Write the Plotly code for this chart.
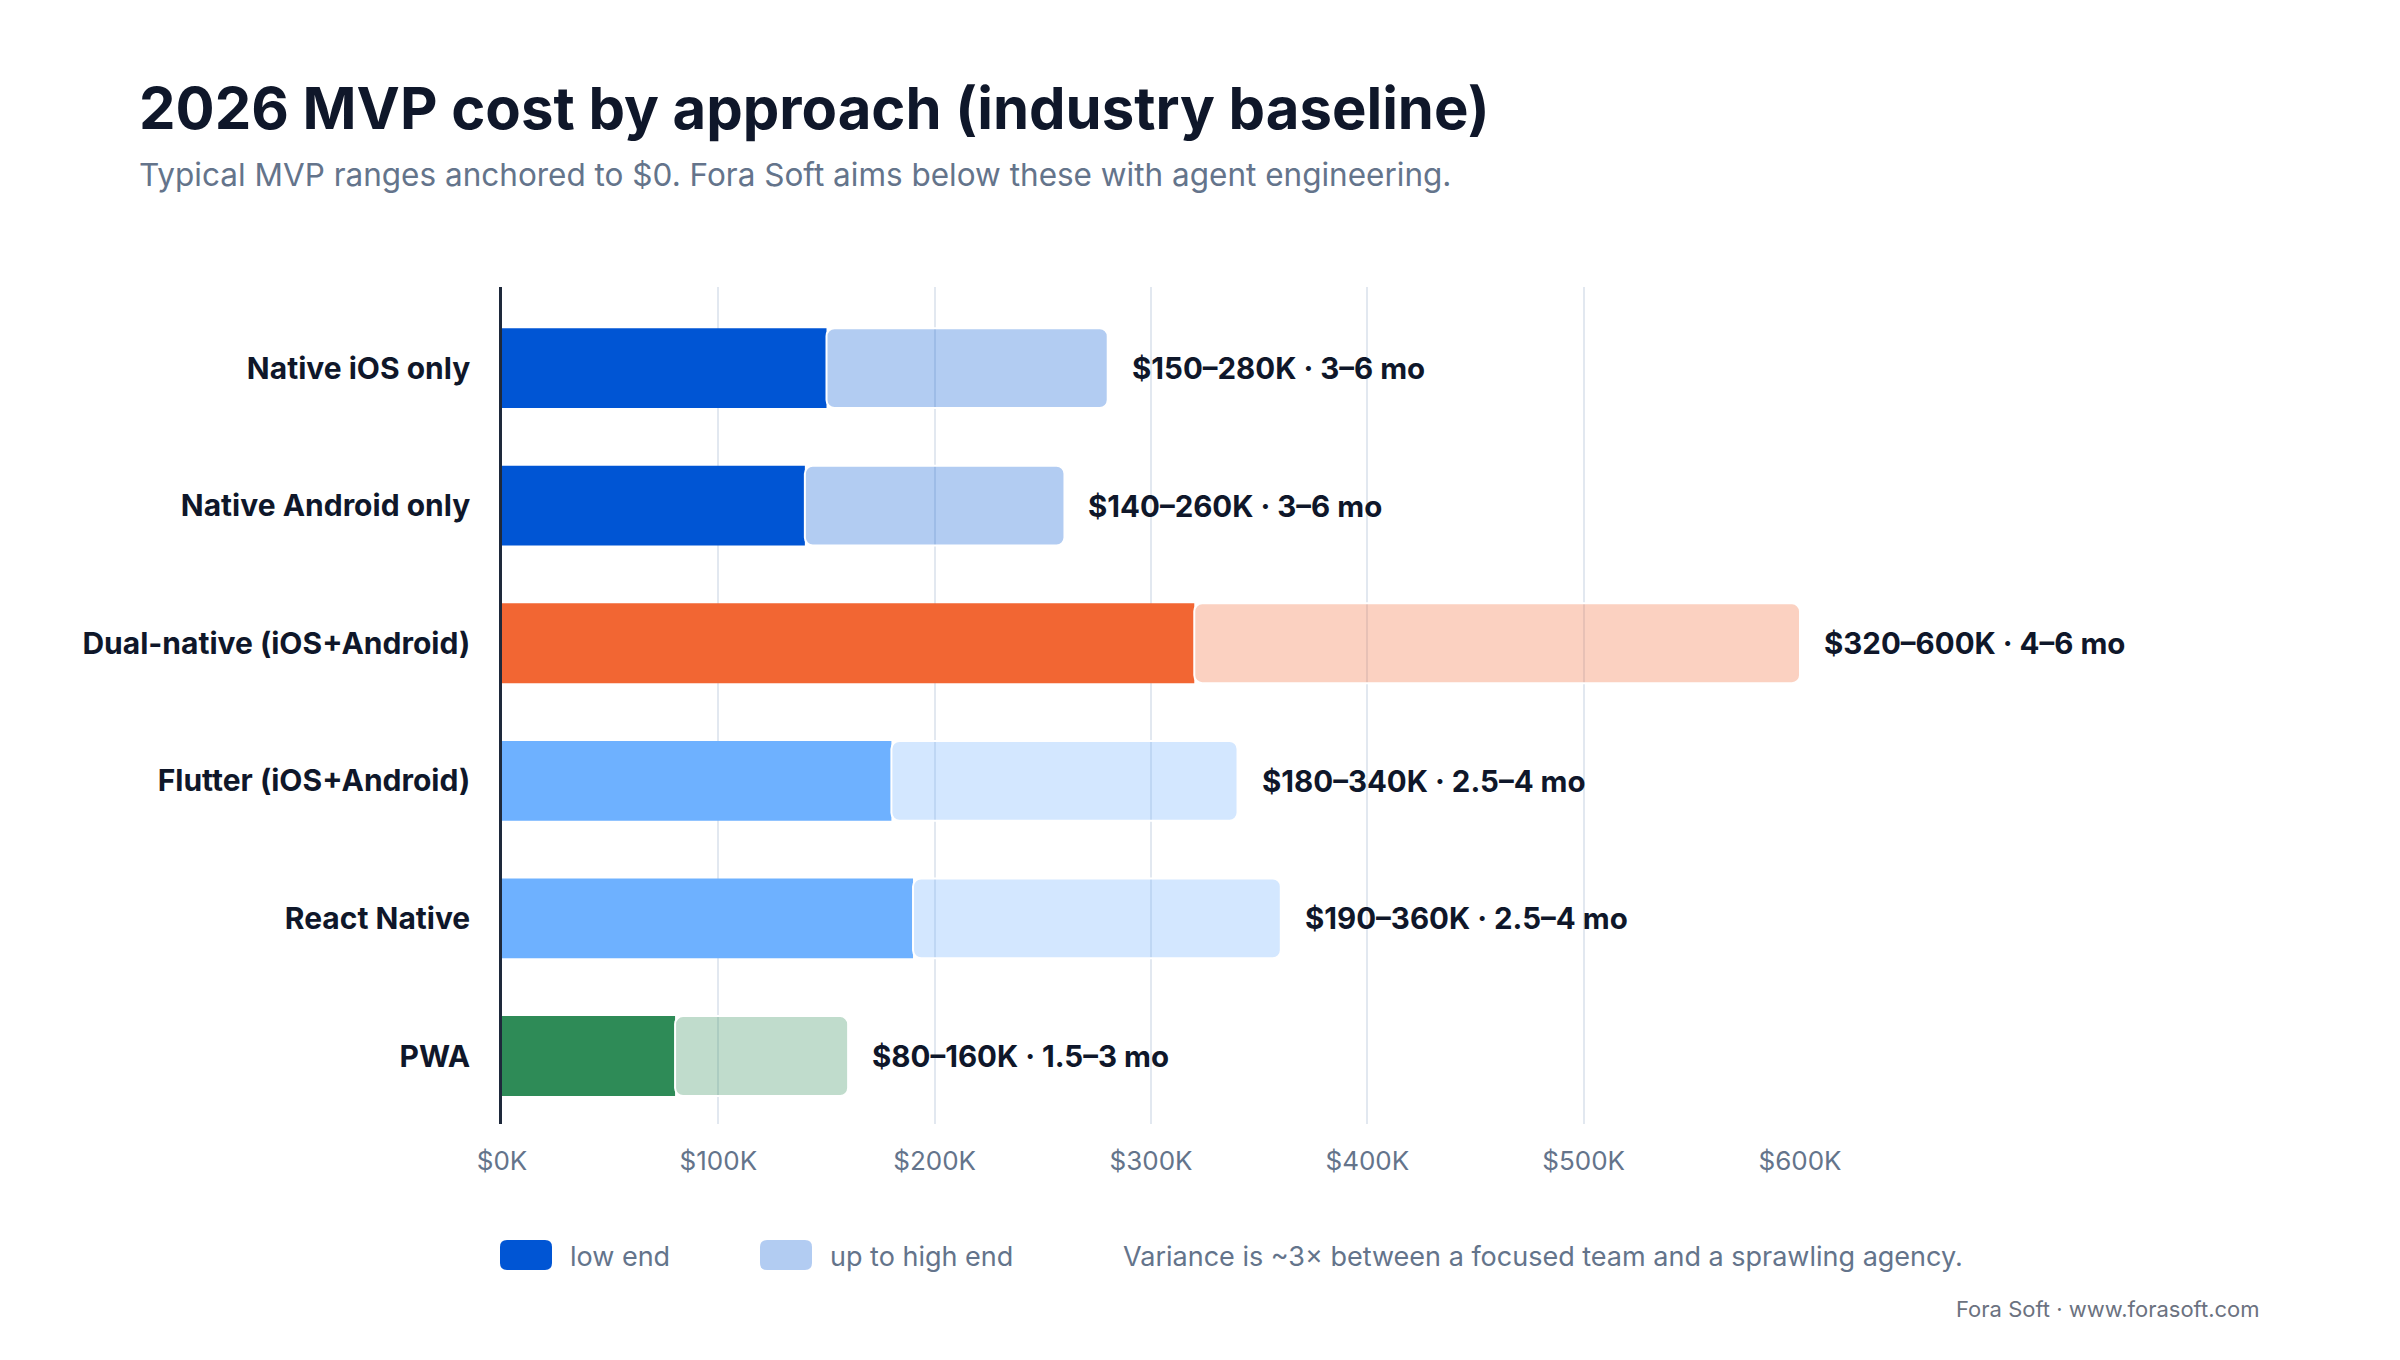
import plotly.graph_objects as go

# Datos (miles de USD)
categorias = ["Native iOS only", "Native Android only", "Dual-native (iOS+Android)",
              "Flutter (iOS+Android)", "React Native", "PWA"]
bajo = [150, 140, 320, 180, 190, 80]
alto = [280, 260, 600, 340, 360, 160]
meses = ["3–6", "3–6", "4–6", "2.5–4", "2.5–4", "1.5–3"]
ticks_x = [0, 100, 200, 300, 400, 500, 600]

colores = ["#0055d4", "#0055d4", "#f26633", "#6eb1ff", "#6eb1ff", "#2e8b57"]


def claro(hex_color, alpha=0.3):
    h = hex_color.lstrip("#")
    r, g, b = int(h[0:2], 16), int(h[2:4], 16), int(h[4:6], 16)
    return f"rgba({r},{g},{b},{alpha})"


colores_claros = [claro(c) for c in colores]

W, H = 2400, 1360
OFF = 8  # margen del body de la pagina html
L, T, PW, PH = 502 - OFF, 287 - OFF, 1298, 837
R, B = W - L - PW, H - T - PH


# pixel de la imagen -> coordenadas paper
def px(x):
    return (x - OFF - L) / PW


def py(y):
    return (T + PH - (y - OFF)) / PH


# rectangulo redondeado en pixeles (relativo al ancla)
def rect_redondeado(w, h, r):
    return (f"M {r},0 L {w - r},0 Q {w},0 {w},{r} L {w},{h - r} Q {w},{h} {w - r},{h} "
            f"L {r},{h} Q 0,{h} 0,{h - r} L 0,{r} Q 0,0 {r},0 Z")


TXT = "#0f172a"
GRIS = "#64748b"
FONT = "Inter, Roboto, sans-serif"

fig = go.Figure()

fig.add_trace(go.Bar(
    y=categorias, x=bajo, orientation="h", name="low end",
    marker=dict(color=colores, line=dict(width=0), cornerradius=8),
    width=0.58, showlegend=False, hoverinfo="skip",
))
fig.add_trace(go.Bar(
    y=categorias, x=[a - b for a, b in zip(alto, bajo)], base=bajo, orientation="h",
    name="up to high end",
    marker=dict(color=colores_claros, line=dict(color="white", width=2), cornerradius=8),
    width=0.58, showlegend=False, hoverinfo="skip",
))

anotaciones = []
for cat, lo, hi, mo in zip(categorias, bajo, alto, meses):
    anotaciones.append(dict(
        x=hi, y=cat, xref="x", yref="y", text=f"${lo}–{hi}K · {mo} mo",
        showarrow=False, xanchor="left", yanchor="middle", xshift=22,
        font=dict(family=FONT, size=29.5, color=TXT, weight="bold"),
    ))

# Titulo y subtitulo
anotaciones.append(dict(
    x=px(137), y=py(108), xref="paper", yref="paper", showarrow=False,
    xanchor="left", yanchor="middle", text="<b>2026 MVP cost by approach (industry baseline)</b>",
    font=dict(family=FONT, size=58, color=TXT),
))
anotaciones.append(dict(
    x=px(137), y=py(174), xref="paper", yref="paper", showarrow=False,
    xanchor="left", yanchor="middle",
    text="Typical MVP ranges anchored to $0. Fora Soft aims below these with agent engineering.",
    font=dict(family=FONT, size=31.5, color=GRIS),
))

# Leyenda manual
leyenda = [("low end", colores[0], 500, 568), ("up to high end", colores_claros[0], 760, 828)]
formas = []
for texto, col, x0, xt in leyenda:
    formas.append(dict(
        type="path", xref="paper", yref="paper",
        xsizemode="pixel", ysizemode="pixel", xanchor=px(x0), yanchor=py(1270),
        path=rect_redondeado(52, 30, 7), fillcolor=col, line=dict(width=0), layer="above",
    ))
    anotaciones.append(dict(
        x=px(xt), y=py(1256), xref="paper", yref="paper", showarrow=False,
        xanchor="left", yanchor="middle", text=texto,
        font=dict(family=FONT, size=27, color=GRIS),
    ))
anotaciones.append(dict(
    x=px(1121), y=py(1256), xref="paper", yref="paper", showarrow=False,
    xanchor="left", yanchor="middle",
    text="Variance is ~3× between a focused team and a sprawling agency.",
    font=dict(family=FONT, size=27, color=GRIS),
))
anotaciones.append(dict(
    x=px(2262), y=py(1309), xref="paper", yref="paper", showarrow=False,
    xanchor="right", yanchor="middle", text="Fora Soft · www.forasoft.com",
    font=dict(family=FONT, size=22, color="#6b7280"),
))

fig.update_layout(
    width=W, height=H,
    margin=dict(l=L, r=R, t=T, b=B, autoexpand=False),
    paper_bgcolor="white", plot_bgcolor="white",
    barmode="overlay", barcornerradius=8,
    font=dict(family=FONT),
    annotations=anotaciones, shapes=formas,
    xaxis=dict(
        range=[0, 600], tickmode="array", tickvals=ticks_x,
        ticktext=[f"${v}K" for v in ticks_x],
        showgrid=True, gridcolor="#e2e8f0", gridwidth=1.5, zeroline=False,
        showline=False, ticks="", ticklabelstandoff=19,
        tickfont=dict(family=FONT, size=26, color=GRIS),
    ),
    yaxis=dict(
        categoryorder="array", categoryarray=categorias,
        range=[5.494, -0.589], showgrid=False, zeroline=False,
        showline=True, linecolor="#1e293b", linewidth=2.5, ticks="", ticklabelstandoff=23,
        tickfont=dict(family=FONT, size=30, color=TXT, weight="bold"),
    ),
)

fig.write_html("out.html")
